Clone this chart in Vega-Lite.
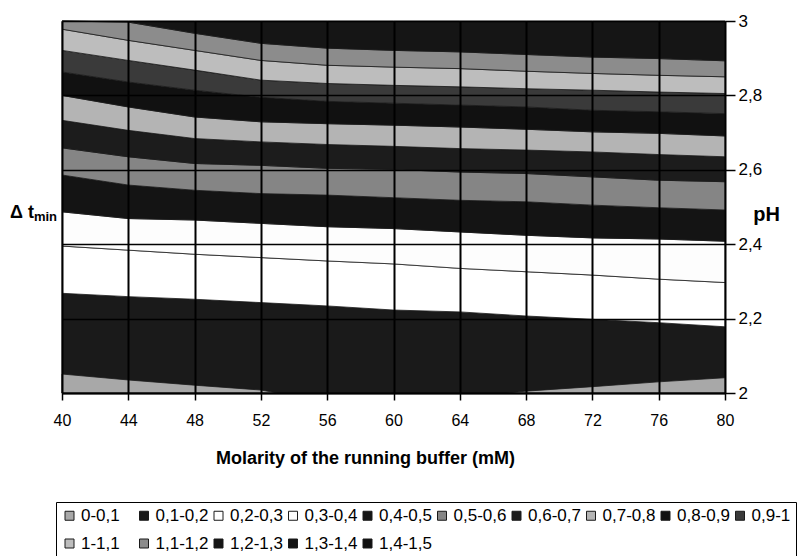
{
"$schema": "https://vega.github.io/schema/vega-lite/v6.json",
"width": 663, "height": 372,
"autosize": {"type": "none"},
"padding": {"left": 62, "top": 21, "right": 76, "bottom": 163},
"background": "white",
"config": {"view": {"stroke": "#555", "strokeWidth": 1}},
"title": {"text": "Δ t", "orient": "top", "anchor": "start", "frame": "group", "dx": -52, "dy": 224, "offset": 0, "fontSize": 18, "fontWeight": "bold", "font": "Liberation Sans", "color": "#000", "baseline": "alphabetic"},
"data": {"values": [
{"c":"0-0,1","p":"L","x":40,"lo":2,"hi":2.051},{"c":"0-0,1","p":"L","x":44,"lo":2,"hi":2.035},{"c":"0-0,1","p":"L","x":48,"lo":2,"hi":2.021},{"c":"0-0,1","p":"L","x":52,"lo":2,"hi":2.008},{"c":"0-0,1","p":"L","x":53,"lo":2,"hi":2.0},
{"c":"0-0,1","p":"R","x":66.8,"lo":2,"hi":2.0},{"c":"0-0,1","p":"R","x":68,"lo":2,"hi":2.005},{"c":"0-0,1","p":"R","x":72,"lo":2,"hi":2.017},{"c":"0-0,1","p":"R","x":76,"lo":2,"hi":2.030},{"c":"0-0,1","p":"R","x":80,"lo":2,"hi":2.041},
{"c":"0,1-0,2","x":40,"lo":2,"hi":2.268},{"c":"0,1-0,2","x":44,"lo":2,"hi":2.259},{"c":"0,1-0,2","x":48,"lo":2,"hi":2.252},{"c":"0,1-0,2","x":52,"lo":2,"hi":2.243},{"c":"0,1-0,2","x":56,"lo":2,"hi":2.234},{"c":"0,1-0,2","x":60,"lo":2,"hi":2.223},{"c":"0,1-0,2","x":64,"lo":2,"hi":2.218},{"c":"0,1-0,2","x":68,"lo":2,"hi":2.207},{"c":"0,1-0,2","x":72,"lo":2,"hi":2.198},{"c":"0,1-0,2","x":76,"lo":2,"hi":2.189},{"c":"0,1-0,2","x":80,"lo":2,"hi":2.178},
{"c":"0,2-0,3","x":40,"lo":2.268,"hi":2.395},{"c":"0,2-0,3","x":44,"lo":2.259,"hi":2.384},{"c":"0,2-0,3","x":48,"lo":2.252,"hi":2.373},{"c":"0,2-0,3","x":52,"lo":2.243,"hi":2.364},{"c":"0,2-0,3","x":56,"lo":2.234,"hi":2.355},{"c":"0,2-0,3","x":60,"lo":2.223,"hi":2.347},{"c":"0,2-0,3","x":64,"lo":2.218,"hi":2.335},{"c":"0,2-0,3","x":68,"lo":2.207,"hi":2.326},{"c":"0,2-0,3","x":72,"lo":2.198,"hi":2.317},{"c":"0,2-0,3","x":76,"lo":2.189,"hi":2.306},{"c":"0,2-0,3","x":80,"lo":2.178,"hi":2.297},
{"c":"0,3-0,4","x":40,"lo":2.395,"hi":2.487},{"c":"0,3-0,4","x":44,"lo":2.384,"hi":2.469},{"c":"0,3-0,4","x":48,"lo":2.373,"hi":2.465},{"c":"0,3-0,4","x":52,"lo":2.364,"hi":2.456},{"c":"0,3-0,4","x":56,"lo":2.355,"hi":2.447},{"c":"0,3-0,4","x":60,"lo":2.347,"hi":2.442},{"c":"0,3-0,4","x":64,"lo":2.335,"hi":2.433},{"c":"0,3-0,4","x":68,"lo":2.326,"hi":2.424},{"c":"0,3-0,4","x":72,"lo":2.317,"hi":2.417},{"c":"0,3-0,4","x":76,"lo":2.306,"hi":2.414},{"c":"0,3-0,4","x":80,"lo":2.297,"hi":2.408},
{"c":"0,4-0,5","x":40,"lo":2.487,"hi":2.586},{"c":"0,4-0,5","x":44,"lo":2.469,"hi":2.559},{"c":"0,4-0,5","x":48,"lo":2.465,"hi":2.545},{"c":"0,4-0,5","x":52,"lo":2.456,"hi":2.536},{"c":"0,4-0,5","x":56,"lo":2.447,"hi":2.532},{"c":"0,4-0,5","x":60,"lo":2.442,"hi":2.525},{"c":"0,4-0,5","x":64,"lo":2.433,"hi":2.518},{"c":"0,4-0,5","x":68,"lo":2.424,"hi":2.514},{"c":"0,4-0,5","x":72,"lo":2.417,"hi":2.505},{"c":"0,4-0,5","x":76,"lo":2.414,"hi":2.498},{"c":"0,4-0,5","x":80,"lo":2.408,"hi":2.492},
{"c":"0,5-0,6","x":40,"lo":2.586,"hi":2.659},{"c":"0,5-0,6","x":44,"lo":2.559,"hi":2.635},{"c":"0,5-0,6","x":48,"lo":2.545,"hi":2.617},{"c":"0,5-0,6","x":52,"lo":2.536,"hi":2.612},{"c":"0,5-0,6","x":56,"lo":2.532,"hi":2.604},{"c":"0,5-0,6","x":60,"lo":2.525,"hi":2.601},{"c":"0,5-0,6","x":64,"lo":2.518,"hi":2.594},{"c":"0,5-0,6","x":68,"lo":2.514,"hi":2.590},{"c":"0,5-0,6","x":72,"lo":2.505,"hi":2.581},{"c":"0,5-0,6","x":76,"lo":2.498,"hi":2.572},{"c":"0,5-0,6","x":80,"lo":2.492,"hi":2.568},
{"c":"0,6-0,7","x":40,"lo":2.659,"hi":2.733},{"c":"0,6-0,7","x":44,"lo":2.635,"hi":2.706},{"c":"0,6-0,7","x":48,"lo":2.617,"hi":2.684},{"c":"0,6-0,7","x":52,"lo":2.612,"hi":2.675},{"c":"0,6-0,7","x":56,"lo":2.604,"hi":2.668},{"c":"0,6-0,7","x":60,"lo":2.601,"hi":2.663},{"c":"0,6-0,7","x":64,"lo":2.594,"hi":2.657},{"c":"0,6-0,7","x":68,"lo":2.590,"hi":2.653},{"c":"0,6-0,7","x":72,"lo":2.581,"hi":2.648},{"c":"0,6-0,7","x":76,"lo":2.572,"hi":2.641},{"c":"0,6-0,7","x":80,"lo":2.568,"hi":2.635},
{"c":"0,7-0,8","x":40,"lo":2.733,"hi":2.800},{"c":"0,7-0,8","x":44,"lo":2.706,"hi":2.769},{"c":"0,7-0,8","x":48,"lo":2.684,"hi":2.742},{"c":"0,7-0,8","x":52,"lo":2.675,"hi":2.729},{"c":"0,7-0,8","x":56,"lo":2.668,"hi":2.724},{"c":"0,7-0,8","x":60,"lo":2.663,"hi":2.720},{"c":"0,7-0,8","x":64,"lo":2.657,"hi":2.715},{"c":"0,7-0,8","x":68,"lo":2.653,"hi":2.709},{"c":"0,7-0,8","x":72,"lo":2.648,"hi":2.702},{"c":"0,7-0,8","x":76,"lo":2.641,"hi":2.698},{"c":"0,7-0,8","x":80,"lo":2.635,"hi":2.691},
{"c":"0,8-0,9","x":40,"lo":2.800,"hi":2.863},{"c":"0,8-0,9","x":44,"lo":2.769,"hi":2.836},{"c":"0,8-0,9","x":48,"lo":2.742,"hi":2.814},{"c":"0,8-0,9","x":52,"lo":2.729,"hi":2.795},{"c":"0,8-0,9","x":56,"lo":2.724,"hi":2.784},{"c":"0,8-0,9","x":60,"lo":2.720,"hi":2.779},{"c":"0,8-0,9","x":64,"lo":2.715,"hi":2.774},{"c":"0,8-0,9","x":68,"lo":2.709,"hi":2.769},{"c":"0,8-0,9","x":72,"lo":2.702,"hi":2.760},{"c":"0,8-0,9","x":76,"lo":2.698,"hi":2.756},{"c":"0,8-0,9","x":80,"lo":2.691,"hi":2.751},
{"c":"0,9-1","x":40,"lo":2.863,"hi":2.921},{"c":"0,9-1","x":44,"lo":2.836,"hi":2.894},{"c":"0,9-1","x":48,"lo":2.814,"hi":2.868},{"c":"0,9-1","x":52,"lo":2.795,"hi":2.841},{"c":"0,9-1","x":56,"lo":2.784,"hi":2.832},{"c":"0,9-1","x":60,"lo":2.779,"hi":2.827},{"c":"0,9-1","x":64,"lo":2.774,"hi":2.823},{"c":"0,9-1","x":68,"lo":2.769,"hi":2.818},{"c":"0,9-1","x":72,"lo":2.760,"hi":2.814},{"c":"0,9-1","x":76,"lo":2.756,"hi":2.809},{"c":"0,9-1","x":80,"lo":2.751,"hi":2.805},
{"c":"1-1,1","x":40,"lo":2.921,"hi":2.978},{"c":"1-1,1","x":44,"lo":2.894,"hi":2.948},{"c":"1-1,1","x":48,"lo":2.868,"hi":2.921},{"c":"1-1,1","x":52,"lo":2.841,"hi":2.894},{"c":"1-1,1","x":56,"lo":2.832,"hi":2.881},{"c":"1-1,1","x":60,"lo":2.827,"hi":2.876},{"c":"1-1,1","x":64,"lo":2.823,"hi":2.872},{"c":"1-1,1","x":68,"lo":2.818,"hi":2.865},{"c":"1-1,1","x":72,"lo":2.814,"hi":2.859},{"c":"1-1,1","x":76,"lo":2.809,"hi":2.854},{"c":"1-1,1","x":80,"lo":2.805,"hi":2.850},
{"c":"1,1-1,2","x":40,"lo":2.978,"hi":3.0},{"c":"1,1-1,2","x":44,"lo":2.948,"hi":2.997},{"c":"1,1-1,2","x":48,"lo":2.921,"hi":2.967},{"c":"1,1-1,2","x":52,"lo":2.894,"hi":2.940},{"c":"1,1-1,2","x":56,"lo":2.881,"hi":2.927},{"c":"1,1-1,2","x":60,"lo":2.876,"hi":2.921},{"c":"1,1-1,2","x":64,"lo":2.872,"hi":2.917},{"c":"1,1-1,2","x":68,"lo":2.865,"hi":2.910},{"c":"1,1-1,2","x":72,"lo":2.859,"hi":2.903},{"c":"1,1-1,2","x":76,"lo":2.854,"hi":2.899},{"c":"1,1-1,2","x":80,"lo":2.850,"hi":2.893},
{"c":"1,2-1,3","x":40,"lo":3.0,"hi":3.0},{"c":"1,2-1,3","x":44,"lo":2.997,"hi":3.0},{"c":"1,2-1,3","x":48,"lo":2.967,"hi":3.0},{"c":"1,2-1,3","x":52,"lo":2.940,"hi":3.0},{"c":"1,2-1,3","x":56,"lo":2.927,"hi":3.0},{"c":"1,2-1,3","x":60,"lo":2.921,"hi":3.0},{"c":"1,2-1,3","x":64,"lo":2.917,"hi":3.0},{"c":"1,2-1,3","x":68,"lo":2.910,"hi":3.0},{"c":"1,2-1,3","x":72,"lo":2.903,"hi":3.0},{"c":"1,2-1,3","x":76,"lo":2.899,"hi":3.0},{"c":"1,2-1,3","x":80,"lo":2.893,"hi":3.0}
]},
"layer": [
{"transform": [{"filter": "datum.c != '0-0,1'"}],
 "mark": {"type": "area", "stroke": "#1a1a1a", "strokeWidth": 0.8, "interpolate": "linear"},
 "encoding": {
  "x": {"field": "x", "type": "quantitative", "scale": {"domain": [40, 80], "nice": false, "zero": false},
   "axis": {"values": [40,44,48,52,56,60,64,68,72,76,80], "title": "Molarity of the running buffer (mM)", "grid": true, "gridColor": "#000", "gridWidth": 2, "gridOpacity": 1, "domain": true, "domainColor": "#000", "domainWidth": 2, "ticks": true, "tickColor": "#000", "tickSize": 7, "tickWidth": 1.5, "labelFont": "Liberation Sans", "labelFontSize": 16, "labelColor": "#000", "labelPadding": 12, "labelFlush": false, "titleFont": "Liberation Sans", "titleFontSize": 18, "titleFontWeight": "bold", "titleColor": "#000", "titleX": 303, "titleY": 65, "titleAlign": "center", "titleBaseline": "middle", "zindex": 1}},
  "y": {"field": "hi", "type": "quantitative", "stack": null, "scale": {"domain": [2, 3], "nice": false, "zero": false},
   "axis": {"orient": "right", "values": [2,2.2,2.4,2.6,2.8,3], "labelExpr": "replace(format(datum.value, '.1~f'), '.', ',')", "grid": true, "gridColor": "#000", "gridWidth": 1.5, "gridOpacity": 1, "domain": false, "ticks": true, "tickSize": 10, "tickColor": "#000", "tickWidth": 1.5, "labelFont": "Liberation Sans", "labelFontSize": 17, "labelColor": "#000", "labelPadding": 3, "labelFlush": false, "title": "pH", "titleAngle": 0, "titleFont": "Liberation Sans", "titleFontSize": 20, "titleFontWeight": "bold", "titleColor": "#000", "titleX": 41, "titleY": 193, "titleAlign": "center", "titleBaseline": "middle", "zindex": 1}},
  "y2": {"field": "lo"},
  "color": {"field": "c", "type": "nominal",
   "scale": {"domain": ["0-0,1","0,1-0,2","0,2-0,3","0,3-0,4","0,4-0,5","0,5-0,6","0,6-0,7","0,7-0,8","0,8-0,9","0,9-1","1-1,1","1,1-1,2","1,2-1,3","1,3-1,4","1,4-1,5"],
    "range": ["#a8a8a8","#1a1a1a","#ffffff","#fdfdfd","#141414","#858585","#1c1c1c","#b4b4b4","#111111","#3a3a3a","#bdbdbd","#8c8c8c","#151515","#121212","#101010"]},
   "legend": {"orient": "none", "legendX": -6, "legendY": 481, "direction": "horizontal", "columns": 10, "title": null, "symbolType": "square", "symbolSize": 81, "symbolStrokeColor": "#222", "symbolStrokeWidth": 1, "symbolOpacity": 1, "labelFont": "Liberation Sans", "labelFontSize": 17, "labelColor": "#000", "labelOffset": 3, "columnPadding": 1.5, "rowPadding": 10, "gridAlign": "all", "strokeColor": "#000", "fillColor": "#fff", "padding": 5, "labelLimit": 120}}
 }},
{"transform": [{"filter": "datum.c == '0-0,1'"}],
 "mark": {"type": "area", "stroke": "#1a1a1a", "strokeWidth": 0.8, "interpolate": "linear"},
 "encoding": {
  "x": {"field": "x", "type": "quantitative"},
  "y": {"field": "hi", "type": "quantitative", "stack": null,
   "axis": {"orient": "left", "labels": false, "ticks": false, "domain": false, "grid": false, "title": "min", "titleAngle": 0, "titleX": -17, "titleY": 199, "titleAlign": "center", "titleBaseline": "alphabetic", "titleFont": "Liberation Sans", "titleFontSize": 13, "titleFontWeight": "bold", "titleColor": "#000"}},
  "y2": {"field": "lo"},
  "color": {"field": "c", "type": "nominal"},
  "detail": {"field": "p"}
 }}
],
"resolve": {"axis": {"y": "independent"}}
}
